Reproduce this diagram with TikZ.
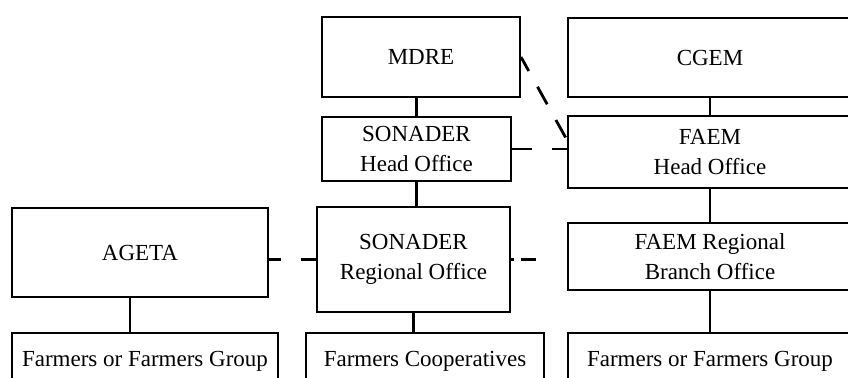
\documentclass[tikz,border=0pt]{standalone}
\usepackage{fontspec}
\setmainfont{Liberation Serif}
\usetikzlibrary{calc}

\begin{document}
\begin{tikzpicture}[x=0.5pt, y=-0.5pt,
    font=\fontsize{11.5pt}{15pt}\selectfont,
    unit/.style={draw, line width=1pt, align=center, inner sep=0pt},
    link/.style={line width=1.4pt},
    dashlink/.style={line width=1.4pt}]
    \useasboundingbox (0,0) rectangle (848,377);
    \clip (0,0) rectangle (848,377);

    % ministry and head offices
    \node[unit, minimum width=99pt, minimum height=40pt] (mdre) at (421,57) {MDRE};
    \node[unit, minimum width=142pt, minimum height=39.5pt] (cgem) at (710,57.5) {CGEM};
    \node[unit, minimum width=94.5pt, minimum height=32pt] (sonho) at (416.5,149) {SONADER\\Head Office};
    \node[unit, minimum width=142pt, minimum height=36pt] (faemho) at (710,152) {FAEM\\Head Office};

    % regional level
    \node[unit, minimum width=128pt, minimum height=44.5pt] (ageta) at (140,252.5) {AGETA};
    \node[unit, minimum width=96.5pt, minimum height=52.5pt] (sonro) at (413.5,259.5) {SONADER\\Regional Office};
    \node[unit, minimum width=142pt, minimum height=33.5pt] (faemro) at (710,256.5) {FAEM Regional\\Branch Office};

    % farmers
    \node[unit, minimum width=133pt, minimum height=28.5pt] (grp1) at (145,361.5) {Farmers or Farmers Group};
    \node[unit, minimum width=119pt, minimum height=28.5pt] (coop) at (425,361.5) {Farmers Cooperatives};
    \node[unit, minimum width=142pt, minimum height=28.5pt] (grp2) at (710,361.5) {Farmers or Farmers Group};

    % hierarchy
    \draw[link] (sonho.north) -- (sonho.north |- mdre.south);
    \draw[link] (sonho.south) -- (sonho.south |- sonro.north);
    \draw[link] (sonro.south) -- (sonro.south |- coop.north);
    \draw[link] (cgem.south) -- (cgem.south |- faemho.north);
    \draw[link] (faemho.south) -- (faemho.south |- faemro.north);
    \draw[link] (faemro.south) -- (faemro.south |- grp2.north);
    \draw[link] ([xshift=-5pt]ageta.south) -- ([xshift=-5pt]ageta.south |- grp1.north);

    % cooperation
    \draw[dashlink, dash pattern=on 8pt off 9pt on 10pt off 9pt on 10pt] (mdre.east) -- ([yshift=6pt]faemho.west);
    \draw[dashlink, dash pattern=on 10pt off 10pt on 10pt] (sonho.east) -- (sonho.east -| faemho.west);
    \draw[dashlink, dash pattern=on 6pt off 10pt on 10pt] (sonro.west -| ageta.east) -- (sonro.west);
    \draw[dashlink, dash pattern=on 1.5pt off 3.5pt on 7.5pt off 20pt] (sonro.east) -- (sonro.east -| faemro.west);
\end{tikzpicture}
\end{document}
